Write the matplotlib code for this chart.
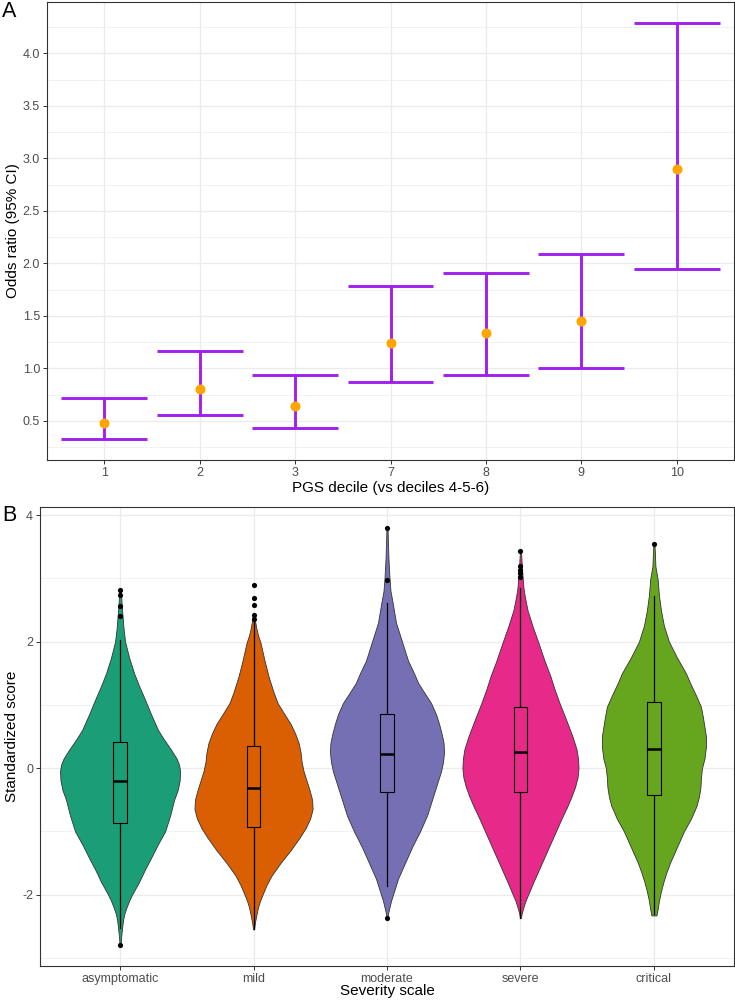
import matplotlib

matplotlib.use("Agg")
import matplotlib.pyplot as plt
from matplotlib.ticker import MultipleLocator

plt.rcParams["font.family"] = ["Liberation Sans", "DejaVu Sans"]
plt.rcParams["axes.unicode_minus"] = False

# panel A: odds ratios by PGS decile
deciles = ["1", "2", "3", "7", "8", "9", "10"]
odds_ratio = [0.484, 0.807, 0.64, 1.245, 1.339, 1.447, 2.896]
ci_low = [0.326, 0.557, 0.436, 0.872, 0.94, 1.0, 1.95]
ci_high = [0.72, 1.165, 0.94, 1.78, 1.912, 2.089, 4.29]

# panel B: violin profiles (score, half width) and box stats
severity = ["asymptomatic", "mild", "moderate", "severe", "critical"]
violin_colors = ["#1B9E77", "#D95F02", "#7570B3", "#E7298A", "#66A61E"]

asym_y = [-2.80, -2.70, -2.60, -2.50, -2.40, -2.30, -2.20, -2.10, -2.00, -1.80, -1.60, -1.45,
          -1.20, -1.00, -0.75, -0.50, -0.35, -0.20, -0.05, 0.05, 0.15, 0.29, 0.45, 0.60,
          0.85, 1.08, 1.30, 1.50, 1.75, 2.00, 2.20, 2.40, 2.60, 2.82]
asym_w = [0.5, 0.9, 1.5, 2.2, 3.0, 4.3, 6.5, 9, 12, 19, 25, 30,
          38, 45, 50, 54, 57.5, 59.5, 60, 59, 56.5, 51, 44, 38,
          31, 25, 19, 14, 9, 5, 3.5, 2.5, 1.5, 0.8]
mild_y = [-2.55, -2.45, -2.35, -2.20, -2.10, -2.00, -1.85, -1.70, -1.50, -1.30, -1.10, -0.95,
          -0.80, -0.65, -0.50, -0.35, -0.20, -0.05, 0.10, 0.25, 0.40, 0.55, 0.70, 0.85,
          1.03, 1.20, 1.45, 1.70, 1.98, 2.10, 2.20, 2.30, 2.40]
mild_w = [0.5, 1.3, 2.5, 4.5, 6.5, 9, 13, 18, 27, 37, 46, 52,
          56.5, 59, 58.5, 56, 53, 50, 48, 47, 45, 41.5, 37, 31,
          24, 20, 15, 11, 7, 4.5, 3, 1.8, 0.8]
moderate_y = [-2.37, -2.30, -2.20, -2.10, -2.00, -1.75, -1.50, -1.25, -1.00, -0.75, -0.50, -0.25,
              -0.05, 0.10, 0.25, 0.40, 0.55, 0.70, 0.85, 1.03, 1.20, 1.35, 1.50, 1.70,
              2.00, 2.30, 2.61, 2.80, 3.00, 3.30, 3.60, 3.80]
moderate_w = [0.5, 1, 2.5, 4, 6, 11, 18, 25, 33, 40, 45, 50,
              54, 56, 57, 56.5, 54.5, 52, 49, 44, 37, 31, 27, 21,
              15, 9, 5.7, 3.5, 2.5, 1.5, 0.9, 0.5]
severe_y = [-2.37, -2.30, -2.20, -2.10, -1.95, -1.80, -1.55, -1.30, -1.05, -0.80, -0.60, -0.45,
            -0.30, -0.15, 0.00, 0.15, 0.30, 0.50, 0.75, 1.03, 1.25, 1.45, 1.70, 1.98,
            2.25, 2.50, 2.70, 2.85, 3.15, 3.44]
severe_w = [0.5, 1.2, 3, 5, 9, 13, 20, 27, 34, 41, 47, 51,
            54.5, 57, 58, 57.5, 56, 52, 46, 39, 34, 30, 24, 18,
            12, 7, 4.5, 3, 1.5, 0.5]
critical_y = [-2.33, -2.25, -2.10, -1.95, -1.80, -1.65, -1.50, -1.25, -1.00, -0.80, -0.60, -0.45,
              -0.30, -0.15, 0.00, 0.15, 0.34, 0.50, 0.65, 0.80, 0.97, 1.15, 1.35, 1.50,
              1.75, 2.00, 2.25, 2.50, 2.73, 2.99, 3.19, 3.40, 3.55]
critical_w = [2.5, 3.5, 5, 7, 9.5, 12.5, 16, 23, 30, 37, 42.5, 45,
              46.5, 47, 48, 50.5, 52, 52, 50.5, 49, 47, 42, 36, 32,
              23, 15, 10, 7, 5, 3.7, 1.5, 1, 0.5]

whisker_low = [-2.53, -2.55, -1.87, -2.37, -2.30]
box_q1 = [-0.87, -0.93, -0.38, -0.38, -0.42]
box_median = [-0.21, -0.32, 0.23, 0.25, 0.30]
box_q3 = [0.41, 0.35, 0.86, 0.96, 1.04]
whisker_high = [2.03, 2.33, 2.61, 2.85, 2.73]
outliers = [
    [-2.80, 2.40, 2.57, 2.74, 2.82],
    [2.36, 2.42, 2.58, 2.69, 2.89],
    [-2.37, 2.97, 3.80],
    [3.03, 3.08, 3.13, 3.19, 3.44],
    [3.55],
]

profiles = [(asym_y, asym_w), (mild_y, mild_w), (moderate_y, moderate_w),
            (severe_y, severe_w), (critical_y, critical_w)]

GRID = "#EBEBEB"
FRAME = "#333333"
TICK_TXT = "#4D4D4D"


def style_axes(ax):
    ax.set_facecolor("white")
    for side in ax.spines.values():
        side.set_color(FRAME)
        side.set_linewidth(0.8)
    ax.grid(True, which="major", color=GRID, linewidth=0.9)
    ax.grid(True, which="minor", axis="y", color=GRID, linewidth=0.5)
    ax.set_axisbelow(True)
    ax.tick_params(which="major", length=3, width=0.7, color=FRAME,
                   labelsize=9, labelcolor=TICK_TXT, pad=2)
    ax.tick_params(which="minor", length=0)


fig = plt.figure(figsize=(7.35, 10.01), dpi=100)

# ---- panel A
ax1 = fig.add_axes([47 / 735, 1 - 460 / 1001, 687 / 735, 458 / 1001])
style_axes(ax1)
xa = list(range(len(deciles)))
for i in xa:
    ax1.plot([i, i], [ci_low[i], ci_high[i]], color="#A020F0", linewidth=2.1,
             solid_capstyle="butt", zorder=3)
    ax1.plot([i - 0.45, i + 0.45], [ci_low[i], ci_low[i]], color="#A020F0",
             linewidth=2.1, solid_capstyle="butt", zorder=3)
    ax1.plot([i - 0.45, i + 0.45], [ci_high[i], ci_high[i]], color="#A020F0",
             linewidth=2.1, solid_capstyle="butt", zorder=3)
ax1.scatter(xa, odds_ratio, s=52, color="#FFA500", zorder=4, linewidths=0)
ax1.set_xlim(-0.6, len(deciles) - 0.4)
rng = max(ci_high) - min(ci_low)
ax1.set_ylim(min(ci_low) - 0.05 * rng, max(ci_high) + 0.05 * rng)
ax1.set_xticks(xa)
ax1.set_xticklabels(deciles)
ax1.yaxis.set_major_locator(MultipleLocator(0.5))
ax1.yaxis.set_minor_locator(MultipleLocator(0.25))
ax1.yaxis.set_major_formatter(lambda v, p: f"{v:.1f}")
ax1.set_xlabel("PGS decile (vs deciles 4-5-6)", fontsize=11, labelpad=1.5)
ax1.set_ylabel("Odds ratio (95% CI)", fontsize=11, labelpad=2)
fig.text(2 / 735, 1 - 1 / 1001, "A", fontsize=15.5, va="top", ha="left")

# ---- panel B
ax2 = fig.add_axes([40 / 735, 1 - 966 / 1001, 694 / 735, 459 / 1001])
style_axes(ax2)
for i, (ys, ws) in enumerate(profiles):
    half = [w * 0.45 / 60 for w in ws]
    ax2.fill_betweenx(ys, [i - h for h in half], [i + h for h in half],
                      facecolor=violin_colors[i], edgecolor="#333333",
                      linewidth=0.6, zorder=2)
    ax2.plot([i, i], [whisker_low[i], box_q1[i]], color="black", linewidth=0.9, zorder=3)
    ax2.plot([i, i], [box_q3[i], whisker_high[i]], color="black", linewidth=0.9, zorder=3)
    ax2.add_patch(plt.Rectangle((i - 0.05, box_q1[i]), 0.1, box_q3[i] - box_q1[i],
                                facecolor=violin_colors[i], edgecolor="black",
                                linewidth=0.8, zorder=3))
    ax2.plot([i - 0.05, i + 0.05], [box_median[i], box_median[i]], color="black",
             linewidth=1.8, solid_capstyle="butt", zorder=4)
    ax2.scatter([i] * len(outliers[i]), outliers[i], s=14, color="black",
                linewidths=0, zorder=5)

all_y = [v for ys, _ in profiles for v in ys]
rng_b = max(all_y) - min(all_y)
ax2.set_xlim(-0.6, len(severity) - 0.4)
ax2.set_ylim(min(all_y) - 0.05 * rng_b, max(all_y) + 0.05 * rng_b)
ax2.set_xticks(range(len(severity)))
ax2.set_xticklabels(severity)
ax2.yaxis.set_major_locator(MultipleLocator(2))
ax2.yaxis.set_minor_locator(MultipleLocator(1))
ax2.set_xlabel("Severity scale", fontsize=11, labelpad=-1)
ax2.set_ylabel("Standardized score", fontsize=11, labelpad=2)
fig.text(2 / 735, 1 - 505 / 1001, "B", fontsize=15.5, va="top", ha="left")

fig.savefig("out.png", dpi=100)
plt.close(fig)
